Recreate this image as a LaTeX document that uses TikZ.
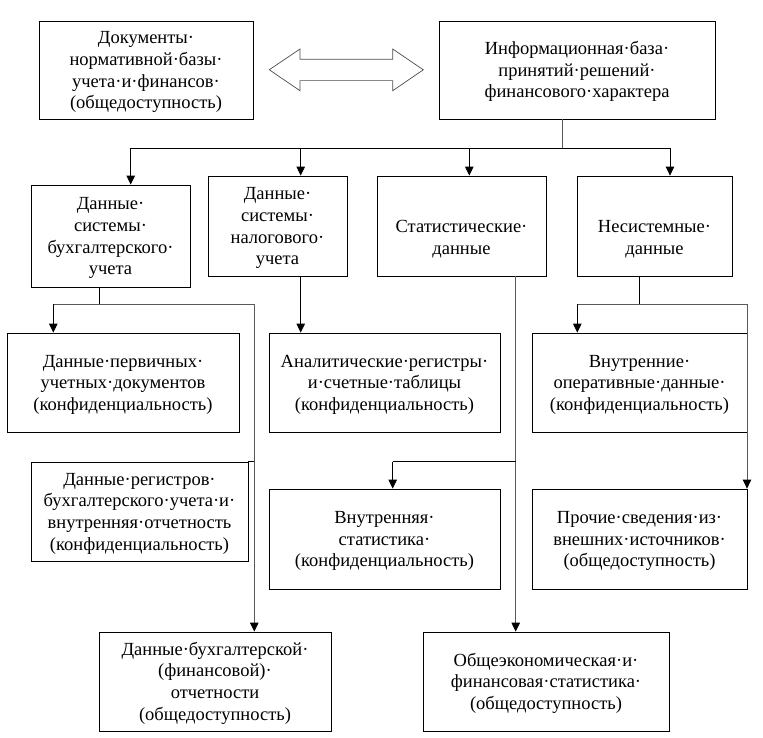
\documentclass[tikz,border=0pt]{standalone}
\usepackage{fontspec}
\setmainfont{Liberation Serif}
\usetikzlibrary{arrows.meta,calc}
\newcommand\fstrut{\rule{0pt}{16.5pt}}
\begin{document}
\begin{tikzpicture}[x=1pt,y=-1pt,
  box/.style={draw, line width=0.8pt, inner sep=0pt, align=center,
    font=\fontsize{18.5}{21.6}\selectfont},
  conn/.style={line width=0.8pt},
  gline/.style={line width=0.9pt, draw=black!65},
  arr/.style={-{Triangle[length=9pt,width=8.5pt,color=black]}}]
\useasboundingbox (0,0) rectangle (763,737);

% boxes
\node[box, minimum width=214pt, minimum height=98pt] (b1) at (146,70)
  {\fstrut Документы·\\нормативной·базы·\\учета·и·финансов·\\(общедоступность)};
\node[box, minimum width=276pt, minimum height=98pt] (b2) at (577,70)
  {\fstrut Информационная·база·\\принятий·решений·\\финансового·характера};
\node[box, minimum width=159pt, minimum height=102pt] (b3) at (110.5,236)
  {\fstrut Данные·\\системы·\\бухгалтерского·\\учета};
\node[box, minimum width=139pt, minimum height=100pt] (b4) at (277.5,226)
  {\fstrut Данные·\\системы·\\налогового·\\учета};
\node[box, minimum width=169pt, minimum height=100pt] (b5) at (461.5,226)
  {\fstrut\\Статистические·\\данные};
\node[box, minimum width=155pt, minimum height=100pt] (b6) at (654.5,226)
  {\fstrut\\Несистемные·\\данные};
\node[box, minimum width=232pt, minimum height=99pt] (b7) at (123,382.5)
  {\fstrut Данные·первичных·\\учетных·документов\\(конфиденциальность)};
\node[box, minimum width=231pt, minimum height=99pt] (b8) at (384.5,382.5)
  {\fstrut Аналитические·регистры·\\и·счетные·таблицы\\(конфиденциальность)};
\node[box, minimum width=215pt, minimum height=99pt] (b9) at (639.5,382.5)
  {\fstrut Внутренние·\\оперативные·данные·\\(конфиденциальность)};
\node[box, minimum width=217pt, minimum height=99pt] (b10) at (139.5,511.5)
  {\fstrut Данные·регистров·\\бухгалтерского·учета·и·\\внутренняя·отчетность\\(конфиденциальность)};
\node[box, minimum width=231pt, minimum height=100pt] (b11) at (384.5,539)
  {\fstrut Внутренняя·\\статистика·\\(конфиденциальность)};
\node[box, minimum width=215pt, minimum height=100pt] (b12) at (639.5,539)
  {\fstrut Прочие·сведения·из·\\внешних·источников·\\(общедоступность)};
\node[box, minimum width=232pt, minimum height=99pt] (b13) at (215,681.5)
  {\fstrut Данные·бухгалтерской·\\(финансовой)·\\отчетности\\(общедоступность)};
\node[box, minimum width=246pt, minimum height=99pt] (b14) at (546,681.5)
  {\fstrut Общеэкономическая·и·\\финансовая·статистика·\\(общедоступность)};

% double arrow between b1 and b2
\draw[line width=0.7pt, draw=black!70]
  (269.3,69.8) -- (300,49) -- (300,59.2) -- (392.7,59.2) -- (392.7,49)
  -- (423.3,69.8) -- (392.7,90.7) -- (392.7,80.6) -- (300,80.6) -- (300,90.7) -- cycle;

% top distribution
\coordinate (j0) at (562,148.3);
\coordinate (a3) at (130.7,148.3);
\coordinate (a4) at (300.7,148.3);
\coordinate (a5) at (469.3,148.3);
\coordinate (a6) at (670,148.3);
\draw[gline] (b2.south -| j0) -- (j0);
\draw[conn] (a3) -- (a6);
\draw[conn,arr] (a3) -- (a3 |- b3.north);
\draw[conn,arr] (a4) -- (a4 |- b4.north);
\draw[conn,arr] (a5) -- (a5 |- b5.north);
\draw[conn,arr] (a6) -- (a6 |- b6.north);

% accounting branch
\coordinate (j3) at (99.3,304.3);
\coordinate (k7) at (53.3,304.3);
\coordinate (k13) at (254.3,304.3);
\draw[conn] (b3.south -| j3) -- (j3);
\draw[gline] (k7) -- (k13);
\draw[conn,arr] (k7) -- (k7 |- b7.north);
\draw[gline,arr] (k13) -- (k13 |- b13.north);
\draw[conn] (b10.north east) -- (b10.north east -| k13);

% tax branch
\draw[conn,arr] (b4.south -| a4) -- (a4 |- b8.north);

% statistics branch
\coordinate (s5) at (515.7,461.7);
\coordinate (s11) at (392.7,461.7);
\draw[gline,arr] (b5.south -| s5) -- (s5 |- b14.north);
\draw[conn] (s5) -- (s11);
\draw[conn,arr] (s11) -- (s11 |- b11.north);

% non-system branch
\coordinate (j6) at (639.3,304.3);
\coordinate (k9) at (577.3,304.3);
\coordinate (k12) at (747,304.3);
\draw[conn] (b6.south -| j6) -- (j6);
\draw[gline] (k9) -- (k12);
\draw[conn,arr] (k9) -- (k9 |- b9.north);
\draw[gline,arr] (k12) -- (k12 |- b12.north);
\end{tikzpicture}
\end{document}
